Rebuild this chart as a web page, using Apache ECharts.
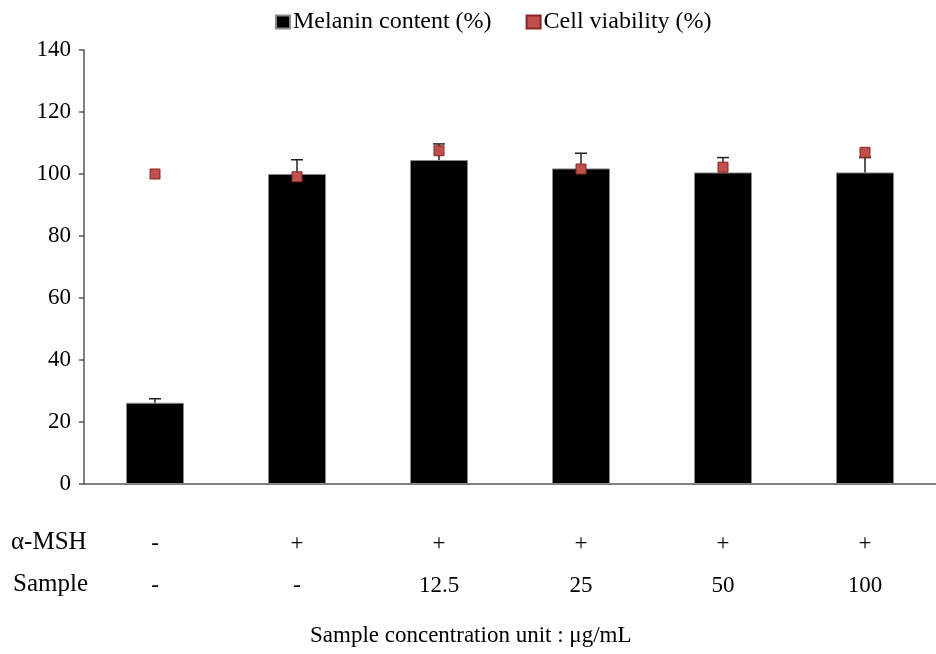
<!DOCTYPE html>
<html><head><meta charset="utf-8">
<script src="https://cdn.jsdelivr.net/npm/echarts@6/dist/echarts.min.js"></script>
<style>html,body{margin:0;padding:0;background:#fff}#c{width:936px;height:654px}</style>
</head><body><div id="c"></div>
<script>
const categories = ['g1', 'g2', 'g3', 'g4', 'g5', 'g6'];
const mshLabels = ['-', '+', '+', '+', '+', '+'];
const sampleLabels = ['-', '-', '12.5', '25', '50', '100'];
const melanin = [26.2, 100.0, 104.5, 101.8, 100.5, 100.5];
const melaninErr = [1.3, 4.6, 5.2, 4.9, 4.8, 4.8];
const viability = [100.0, 99.1, 107.5, 101.6, 102.2, 107.0];
const rowHeaders = ['α-MSH', 'Sample'];
const xTitle = 'Sample concentration unit : μg/mL';

const FONT = 'Liberation Serif';
const chart = echarts.init(document.getElementById('c'), null, {renderer: 'canvas'});
chart.setOption({
  animation: false,
  textStyle: {fontFamily: FONT, color: '#000'},
  grid: {left: 84, right: 0, top: 50, bottom: 170, containLabel: false},
  legend: {
    top: 5, left: 270, itemGap: 34, itemWidth: 14, itemHeight: 13,
    textStyle: {fontFamily: FONT, fontSize: 24, color: '#000', padding: [0, 0, 0, -2]},
    data: [
      {name: 'Melanin content (%)', icon: 'rect'},
      {name: 'Cell viability (%)', icon: 'rect'}
    ]
  },
  xAxis: {
    type: 'category', data: categories,
    axisLine: {lineStyle: {color: '#555', width: 1.5}},
    axisTick: {show: false},
    axisLabel: {
      margin: 39,
      formatter: (v, i) => `{a|${mshLabels[i]}}\n{b|${sampleLabels[i]}}`,
      rich: {
        a: {fontFamily: FONT, fontSize: 23, lineHeight: 42, color: '#000'},
        b: {fontFamily: FONT, fontSize: 23, lineHeight: 42, color: '#000'}
      }
    }
  },
  yAxis: {
    type: 'value', min: 0, max: 140, interval: 20,
    axisLine: {show: true, lineStyle: {color: '#555', width: 1.5}},
    axisTick: {show: true, length: 5, lineStyle: {color: '#555', width: 1.5}},
    splitLine: {show: false},
    axisLabel: {fontFamily: FONT, fontSize: 23, color: '#000', margin: 13}
  },
  series: [
    {
      name: 'Melanin content (%)', type: 'bar', data: melanin, barWidth: 58,
      itemStyle: {color: '#000', borderColor: '#8a8a8a', borderWidth: 1}, z: 2
    },
    {
      name: 'err', type: 'custom', z: 3,
      data: melanin.map((v, i) => [i, v, v + melaninErr[i]]),
      renderItem: (params, api) => {
        const p0 = api.coord([api.value(0), api.value(1)]);
        const p1 = api.coord([api.value(0), api.value(2)]);
        const hw = 6;
        return {
          type: 'group',
          children: [
            {type: 'line', shape: {x1: p0[0], y1: p0[1], x2: p1[0], y2: p1[1]}, style: {stroke: '#222', lineWidth: 1.5}},
            {type: 'line', shape: {x1: p1[0] - hw, y1: p1[1], x2: p1[0] + hw, y2: p1[1]}, style: {stroke: '#222', lineWidth: 1.5}}
          ]
        };
      }
    },
    {
      name: 'Cell viability (%)', type: 'scatter', data: viability, symbol: 'rect', symbolSize: 10, z: 4,
      itemStyle: {color: '#c0504d', borderColor: '#8b2525', borderWidth: 1, opacity: 1}
    }
  ],
  graphic: [
    {type: 'text', left: 11, top: 530, style: {text: rowHeaders[0], font: '25px "Liberation Serif"', fill: '#000'}},
    {type: 'text', left: 13, top: 572, style: {text: rowHeaders[1], font: '25px "Liberation Serif"', fill: '#000'}},
    {type: 'text', left: 310, top: 624, style: {text: xTitle, font: '23px "Liberation Serif"', fill: '#000'}}
  ]
});
</script></body></html>
